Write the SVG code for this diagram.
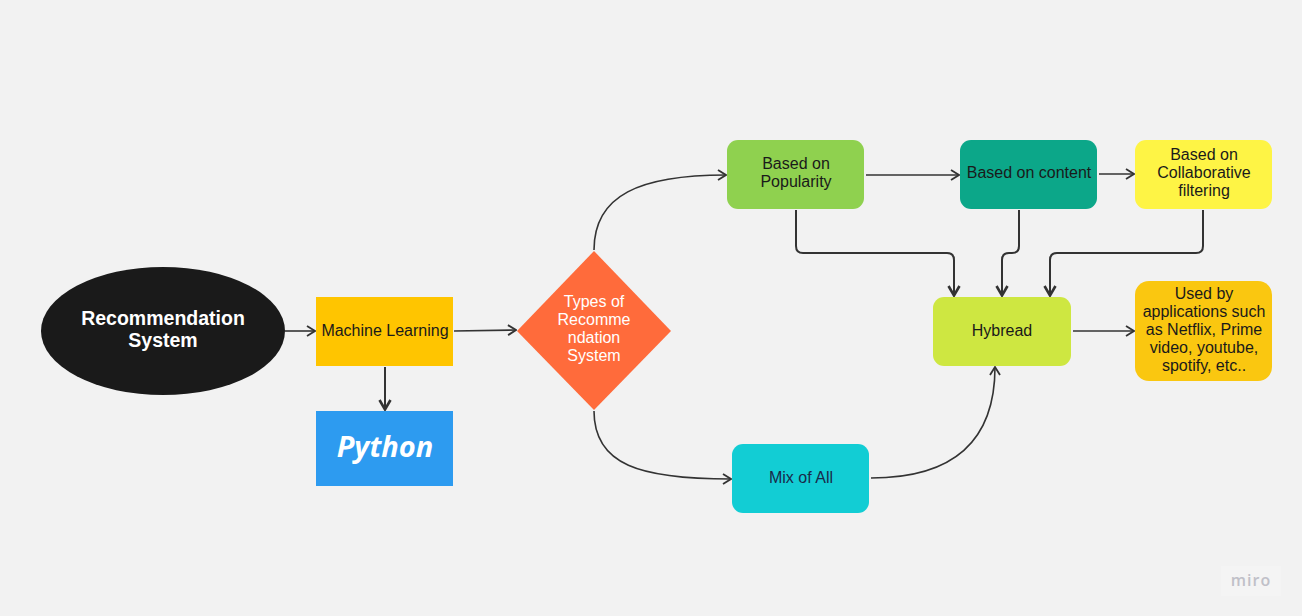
<svg xmlns="http://www.w3.org/2000/svg" width="1302" height="616" viewBox="0 0 1302 616">
<defs>
<marker id="ah" viewBox="0 0 12 12" refX="11" refY="6" markerWidth="12" markerHeight="12" markerUnits="userSpaceOnUse" orient="auto">
<path d="M3,1 L11,6 L3,11" fill="none" stroke="#333" stroke-width="1.8"/>
</marker>
<marker id="ahb" viewBox="0 0 14 14" refX="13" refY="7" markerWidth="14" markerHeight="14" markerUnits="userSpaceOnUse" orient="auto">
<path d="M3,1.5 L12.5,7 L3,12.5" fill="none" stroke="#333" stroke-width="2.6"/>
</marker>
</defs>
<style>
.t{font-family:"Liberation Sans",Arial,sans-serif;font-size:16px;fill:#1a1a1a;text-anchor:middle}
.w{fill:#fff}
.c{fill:none;stroke:#333;stroke-width:1.6;marker-end:url(#ah)}
.cb{fill:none;stroke:#333;stroke-width:2;marker-end:url(#ahb)}
</style>
<rect width="1302" height="616" fill="#f2f2f2"/>
<g id="connectors">
<path class="c" d="M285,331 L315,331"/>
<path class="cb" d="M385,367 L385,410"/>
<path class="c" d="M454,331 L516,330"/>
<path class="c" d="M594,250 C594,195 640,175 726,175"/>
<path class="c" d="M594,411 C594,465 640,479 731,479"/>
<path class="c" d="M866,175 L959,175"/>
<path class="c" d="M1099,174 L1134,174"/>
<path class="cb" d="M796,210 L796,246 Q796,253 803,253 L947,253 Q954,253 954,260 L954,296"/>
<path class="cb" d="M1019,210 L1019,246 Q1019,253 1012,253 L1009,253 Q1002,253 1002,260 L1002,296"/>
<path class="cb" d="M1203,210 L1203,246 Q1203,253 1196,253 L1057,253 Q1050,253 1050,260 L1050,296"/>
<path class="c" d="M1073,331 L1134,331"/>
<path class="c" d="M871,478 C955,478 995,440 995,367"/>
</g>
<g id="recsys">
<ellipse cx="163" cy="331" rx="122" ry="64" fill="#1a1a1a"/>
<text class="t w" x="163" y="325" style="font-weight:bold;font-size:19.5px">Recommendation</text>
<text class="t w" x="163" y="347" style="font-weight:bold;font-size:19.5px">System</text>
</g>
<g id="ml">
<rect x="316" y="297" width="137" height="69" fill="#ffc500"/>
<text class="t" x="385" y="336">Machine Learning</text>
</g>
<g id="python">
<rect x="316" y="411" width="137" height="75" fill="#2d9bf0"/>
<text x="385" y="457" text-anchor="middle" style="font-family:'Noto Sans','Open Sans',sans-serif;font-weight:bold;font-style:italic;font-size:29px;fill:#fff">Python</text>
</g>
<g id="types">
<polygon points="594,251 671,331 594,410 517,331" fill="#ff6b3b"/>
<text class="t w" x="594" y="307">Types of</text>
<text class="t w" x="594" y="325">Recomme</text>
<text class="t w" x="594" y="343">ndation</text>
<text class="t w" x="594" y="361">System</text>
</g>
<g id="popularity">
<rect x="727" y="140" width="137" height="69" rx="11" fill="#8fd14f"/>
<text class="t" x="796" y="169">Based on</text>
<text class="t" x="796" y="187">Popularity</text>
</g>
<g id="content">
<rect x="960" y="140" width="137" height="69" rx="11" fill="#0ca789"/>
<text class="t" x="1029" y="178">Based on content</text>
</g>
<g id="collab">
<rect x="1135" y="140" width="137" height="69" rx="11" fill="#fef445"/>
<text class="t" x="1204" y="160">Based on</text>
<text class="t" x="1204" y="178">Collaborative</text>
<text class="t" x="1204" y="196">filtering</text>
</g>
<g id="hybread">
<rect x="933" y="297" width="138" height="69" rx="11" fill="#cee741"/>
<text class="t" x="1002" y="336">Hybread</text>
</g>
<g id="usedby">
<rect x="1135" y="281" width="137" height="100" rx="14" fill="#fac710"/>
<text class="t" x="1204" y="299">Used by</text>
<text class="t" x="1204" y="317">applications such</text>
<text class="t" x="1204" y="335">as Netflix, Prime</text>
<text class="t" x="1204" y="353">video, youtube,</text>
<text class="t" x="1204" y="371">spotify, etc..</text>
</g>
<g id="mix">
<rect x="732" y="444" width="137" height="69" rx="11" fill="#12cdd4"/>
<text class="t" x="801" y="483" style="fill:#1a2a4a">Mix of All</text>
</g>
<g id="miro">
<rect x="1221" y="566" width="60" height="30" fill="#f4f4f4"/>
<text x="1251" y="586" text-anchor="middle" style="font-family:'Open Sans','Liberation Sans',sans-serif;font-size:16px;font-weight:600;fill:#c0c0c8;letter-spacing:1px">miro</text>
</g>
</svg>
